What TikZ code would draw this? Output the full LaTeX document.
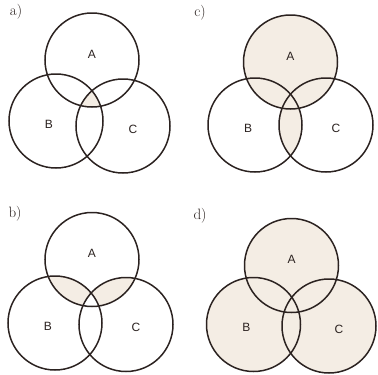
\documentclass[tikz,border=0pt]{standalone}
\usepackage{fontspec}
\setsansfont{Liberation Sans}
\usetikzlibrary{positioning,backgrounds}
\definecolor{Ink}{HTML}{2B2220}
\definecolor{Tint}{HTML}{F4EDE4}

\begin{document}
\begin{tikzpicture}[
  x=1pt, y=-1pt,
  ring/.style={circle, draw=Ink, line width=1.5pt, minimum size=94pt, inner sep=0pt},
  setlbl/.style={font=\sffamily\fontsize{12}{12}\selectfont, text=Ink},
  panel/.style={font=\fontsize{15}{15}\selectfont, text=Ink}
]
  \useasboundingbox (0,0) rectangle (378,375);
  % the four diagrams
  \foreach \p/\ax/\ay/\bx/\by/\cx/\cy/\lx/\ly in {
      a/92/60/56/121/123/126/16/12,
      b/92/259.5/55/323/126/324.5/15/214,
      c/290.5/62/255/125/326/125/200/13,
      d/291.5/265.5/253.5/324.5/329/326/200/216} {
    \node[ring] (\p A) at (\ax,\ay) {};
    \node[ring] (\p B) at (\bx,\by) {};
    \node[ring] (\p C) at (\cx,\cy) {};
    \node[setlbl] (\p A-lbl) at ([shift={(0,-6)}]\p A.center) {A};
    \node[setlbl] (\p B-lbl) at ([shift={(-7,3)}]\p B.center) {B};
    \node[setlbl] (\p C-lbl) at ([shift={(10,3)}]\p C.center) {C};
    \node[panel] (\p-tag) at (\lx,\ly) {\p)};
  }
  \begin{scope}[on background layer]
    % a) all three
    \begin{scope}
      \clip (aA.center) circle[radius=47];
      \clip (aB.center) circle[radius=47];
      \fill[Tint] (aC.center) circle[radius=47];
    \end{scope}
    % b) A with B, A with C
    \begin{scope}
      \clip (bA.center) circle[radius=47];
      \fill[Tint] (bB.center) circle[radius=47];
      \fill[Tint] (bC.center) circle[radius=47];
      \clip (bB.center) circle[radius=47];
      \fill[white] (bC.center) circle[radius=47];
    \end{scope}
    % c) A, plus B with C
    \fill[Tint] (cA.center) circle[radius=47];
    \begin{scope}
      \clip (cB.center) circle[radius=47];
      \fill[Tint] (cC.center) circle[radius=47];
    \end{scope}
    % d) everything
    \fill[Tint] (dA.center) circle[radius=47] (dB.center) circle[radius=47] (dC.center) circle[radius=47];
  \end{scope}
\end{tikzpicture}
\end{document}
